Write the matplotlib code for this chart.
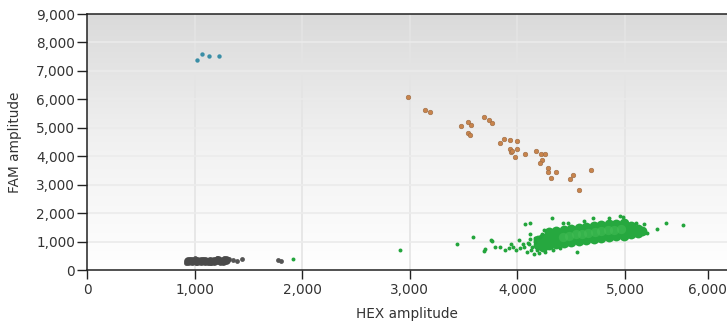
import numpy as np
import matplotlib
matplotlib.use('Agg')
import matplotlib.pyplot as plt
from matplotlib.colors import LinearSegmentedColormap

plt.rcParams['font.family'] = ['DejaVu Sans']

# ---- data (HEX amplitude, FAM amplitude) ----
# FAM+ only (blue)
blue_x = [1020, 1066, 1137, 1227]
blue_y = [7370, 7595, 7535, 7525]

# FAM+/HEX+ (orange)
orange_x = [2980, 3141, 3185, 3476, 3544, 3569, 3544, 3560, 3687, 3736, 3761,
            3841, 3872, 3934, 3999, 3934, 3941, 3953, 3999, 3975, 4071, 4173,
            4222, 4254, 4229, 4213, 4287, 4287, 4359, 4315, 4514, 4489, 4681, 4575]
orange_y = [6090, 5634, 5540, 5059, 5211, 5082, 4812, 4742, 5364, 5258, 5176,
            4472, 4589, 4566, 4542, 4261, 4143, 4190, 4261, 3967, 4073, 4190,
            4085, 4085, 3873, 3756, 3592, 3462, 3462, 3251, 3334, 3193, 3533, 2817]

# negative droplets (gray), dense core + stragglers
gray_core_x = [940, 980, 1020, 1060, 1100, 1140, 1180, 1220, 1260, 1290]
gray_core_y = [310, 320, 315, 325, 320, 330, 325, 335, 330, 340]
gray_x = [920, 960, 1010, 1080, 1150, 1210, 1270, 1320, 1000, 1120, 1240,
          1360, 1391, 1443, 1772, 1806]
gray_y = [260, 380, 230, 400, 230, 410, 420, 380, 410, 250, 250,
          350, 328, 398, 352, 317]

# HEX+ only (green), dense core
green_core_x = ([4190] * 2 + [4240] * 3 + [4290] * 4 + [4360] * 4 + [4430] * 4
                + [4500] * 4 + [4570] * 4 + [4640] * 4 + [4710] * 4 + [4780] * 4
                + [4850] * 4 + [4920] * 4 + [4990] * 4 + [5060] * 3 + [5120] * 2
                + [5160])
green_core_y = [880, 1040,
                820, 980, 1140,
                870, 1020, 1170, 1320,
                900, 1060, 1210, 1370,
                950, 1100, 1250, 1410,
                980, 1140, 1300, 1450,
                1030, 1180, 1330, 1490,
                1060, 1210, 1370, 1520,
                1090, 1240, 1400, 1560,
                1120, 1270, 1420, 1580,
                1150, 1300, 1450, 1610,
                1180, 1330, 1480, 1630,
                1210, 1360, 1510, 1650,
                1250, 1400, 1550,
                1300, 1450,
                1380]
green_mid_x = [4420, 4480, 4540, 4600, 4660, 4720, 4780, 4840, 4900, 4960]
green_mid_y = [1170, 1210, 1250, 1280, 1310, 1340, 1360, 1390, 1410, 1430]
green_x = [2909, 3442, 3590, 3692, 3699, 3755, 3761, 3792, 3838, 3885, 3962,
           4018, 4024, 4071, 4117, 4164, 4210, 4319, 4551, 4954, 4984, 5207,
           5294, 5381, 5542, 1918, 3940, 4060, 4100, 4130, 4090, 4120, 4150,
           4200, 4260, 4330, 4400, 4470, 4620, 4700, 4850, 5100, 5180, 4250,
           4420, 4050, 3990, 3920, 4140, 4160, 4120, 4180, 4230, 4110]
green_y = [693, 905, 1173, 680, 728, 1056, 1032, 799, 822, 704, 799,
           1056, 763, 1610, 1644, 1115, 1173, 1820, 645, 1912, 1877, 1313,
           1444, 1644, 1585, 398, 900, 820, 950, 700, 640, 1250, 580,
           610, 640, 700, 760, 1640, 1720, 1820, 1840, 1660, 1620, 1420,
           1650, 900, 700, 760, 820, 1000, 1080, 720, 1280, 900]

x_ticks = [0, 1000, 2000, 3000, 4000, 5000, 5770]
x_tick_labels = ['0', '1,000', '2,000', '3,000', '4,000', '5,000', '6,000']
y_ticks = [0, 1000, 2000, 3000, 4000, 5000, 6000, 7000, 8000, 9000]

fig = plt.figure(figsize=(7.27, 3.25), dpi=100)
ax = fig.add_axes([0.1197, 0.1692, 0.8803, 0.7877])

xmax, ymax = 5948, 9000
ax.set_xlim(0, xmax)
ax.set_ylim(0, ymax)

# grey gradient background, darker at the top
bg = LinearSegmentedColormap.from_list('bg', ['#ffffff', '#f1f1f1', '#dadada'])
grad = np.linspace(0, 1, 256).reshape(-1, 1)
ax.imshow(grad, cmap=bg, aspect='auto', origin='lower',
          extent=[0, xmax, 0, ymax], zorder=0)

for t in range(1000, 6000, 1000):
    ax.axvline(t, color='#e4e4e4', lw=1.2, zorder=1)
for t in range(1000, 9000, 1000):
    ax.axhline(t, color='#ebebeb', lw=1.2, zorder=1)

ax.scatter(gray_x, gray_y, s=12, color='#555555', lw=0, zorder=3)
ax.scatter(gray_core_x, gray_core_y, s=40, color='#4a4a4a', lw=0, zorder=3)
ax.scatter(green_core_x, green_core_y, s=50, color='#26a83f', lw=0, zorder=3)
ax.scatter(green_mid_x, green_mid_y, s=45, color='#45be57', lw=0, alpha=0.5, zorder=4)
ax.scatter(green_x, green_y, s=8, color='#23a53c', lw=0, zorder=3)
ax.scatter(orange_x, orange_y, s=11, color='#c8844c', edgecolor='#9a6a44',
           lw=0.4, zorder=3)
ax.scatter(blue_x, blue_y, s=10, color='#3a8ea6', lw=0, zorder=3)

ax.set_xticks(x_ticks)
ax.set_xticklabels(x_tick_labels)
ax.set_yticks(y_ticks)
ax.set_yticklabels([f'{v:,}' for v in y_ticks])

ax.spines['right'].set_visible(False)
for s in ['left', 'bottom', 'top']:
    ax.spines[s].set_color('#222222')
    ax.spines[s].set_linewidth(1.1)
ax.tick_params(axis='y', length=7, width=1, pad=1.5, colors='#222222',
               labelsize=9.8, labelcolor='#333333')
ax.tick_params(axis='x', length=6.5, width=1, pad=3, colors='#222222',
               labelsize=9.8, labelcolor='#333333')

ax.set_xlabel('HEX amplitude', fontsize=9.8, color='#333333', labelpad=7)
ax.set_ylabel('FAM amplitude', fontsize=9.8, color='#333333')
ax.yaxis.set_label_coords(-0.102, 0.5)

fig.savefig('out.png', dpi=100)
